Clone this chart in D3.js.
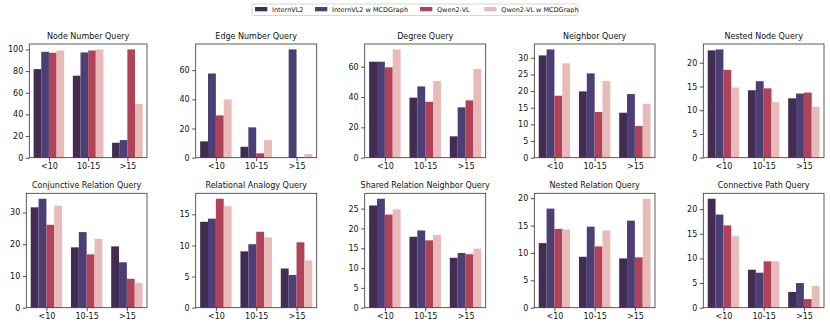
<!DOCTYPE html>
<html><head><meta charset="utf-8">
<script src="https://cdn.jsdelivr.net/npm/d3@7"></script>
<style>
html,body{margin:0;padding:0;background:#fff;}
svg{display:block;font-family:"DejaVu Sans",sans-serif;}
</style></head>
<body>
<svg id="c" width="830" height="327"></svg>
<script>
const categories = ["<10", "10-15", ">15"];
const seriesNames = ["InternVL2", "InternVL2 w MCDGraph", "Qwen2-VL", "Qwen2-VL w MCDGraph"];
const colors = ["#432c52", "#4b3f76", "#b0435a", "#e8bab8"];
const titles = ["Node Number Query", "Edge Number Query", "Degree Query", "Neighbor Query", "Nested Node Query",
  "Conjunctive Relation Query", "Relational Analogy Query", "Shared Relation Neighbor Query", "Nested Relation Query", "Connective Path Query"];

// values[panel][category] = [InternVL2, InternVL2 w MCDGraph, Qwen2-VL, Qwen2-VL w MCDGraph]
const nodeNumber   = [[81.8, 97.8, 96.9, 99.0], [75.7, 97.2, 99.0, 100.0], [13.8, 16.3, 100.0, 49.5]];
const edgeNumber   = [[11.2, 57.7, 29.0, 39.9], [7.5, 20.8, 3.0, 12.1], [0.0, 74.2, 0.5, 2.5]];
const degree       = [[63.3, 63.3, 59.6, 71.4], [39.6, 47.0, 36.9, 50.5], [14.1, 33.2, 37.8, 58.5]];
const neighbor     = [[30.7, 32.5, 18.6, 28.3], [19.9, 25.3, 13.7, 23.0], [13.5, 19.1, 9.5, 16.2]];
const nestedNode   = [[22.6, 22.8, 18.5, 14.8], [14.2, 16.1, 14.6, 11.7], [12.5, 13.5, 13.7, 10.7]];
const conjunctive  = [[31.6, 34.3, 26.1, 32.1], [19.0, 23.8, 16.8, 21.7], [19.3, 14.3, 9.1, 7.8]];
const analogy      = [[13.8, 14.3, 17.5, 16.3], [9.05, 10.2, 12.2, 11.3], [6.3, 5.25, 10.5, 7.6]];
const sharedRel    = [[25.8, 27.5, 23.5, 24.8], [17.9, 19.5, 17.0, 18.4], [12.6, 13.8, 13.5, 14.9]];
const nestedRel    = [[11.8, 18.1, 14.4, 14.3], [9.3, 14.8, 11.2, 14.1], [9.0, 15.9, 9.2, 19.9]];
const connective   = [[22.1, 18.9, 16.7, 14.5], [7.7, 7.1, 9.4, 9.4], [3.2, 5.0, 1.75, 4.4]];
const panelValues = [nodeNumber, edgeNumber, degree, neighbor, nestedNode, conjunctive, analogy, sharedRel, nestedRel, connective];

const yTicks = [[0,20,40,60,80,100],[0,20,40,60],[0,20,40,60],[0,5,10,15,20,25,30],[0,5,10,15,20],
  [0,10,20,30],[0,5,10,15],[0,5,10,15,20,25],[0,5,10,15,20],[0,5,10,15,20]];

// layout
const colRight = [147, 316.7, 485.7, 655, 824];
const colLeftTop = [29.3, 195.7, 364.7, 534.3, 703.3];
const colLeftBot = [26.3, 195.7, 364.7, 534.3, 703.3];
const rows = [{top: 44, bottom: 157.7}, {top: 193.3, bottom: 307.7}];

const svg = d3.select("#c");
const groupW = 0.78, barW = groupW / 4;

panelValues.forEach((vals, p) => {
  const r = Math.floor(p / 5), c = p % 5;
  const left = r === 0 ? colLeftTop[c] : colLeftBot[c];
  const right = colRight[c];
  const {top, bottom} = rows[r];
  const maxV = d3.max(vals.flat());
  const x = d3.scaleLinear().domain([-0.5, 2.5]).range([left, right]);
  const y = d3.scaleLinear().domain([0, maxV * 1.05]).range([bottom, top]);
  const g = svg.append("g");

  vals.forEach((row, ci) => {
    row.forEach((v, si) => {
      const x0 = ci - groupW / 2 + si * barW;
      g.append("rect")
        .attr("x", x(x0)).attr("width", x(x0 + barW) - x(x0))
        .attr("y", y(v)).attr("height", y(0) - y(v))
        .attr("fill", colors[si]);
    });
  });

  const xa = g.append("g").attr("transform", `translate(0,${bottom})`)
    .call(d3.axisBottom(x).tickValues([0,1,2]).tickFormat(i => categories[i]).tickSize(3.5).tickPadding(2.5));
  const ya = g.append("g").attr("transform", `translate(${left},0)`)
    .call(d3.axisLeft(y).tickValues(yTicks[p]).tickFormat(d3.format("d")).tickSize(3.5).tickPadding(2.5));
  [xa, ya].forEach(a => {
    a.select(".domain").remove();
    a.selectAll(".tick line").attr("stroke", "#222").attr("stroke-width", 0.8);
    a.selectAll(".tick text").attr("fill", "#111").style("font-size", "8px").style("font-family", "DejaVu Sans");
  });

  g.append("rect").attr("x", left).attr("y", top).attr("width", right - left).attr("height", bottom - top)
    .attr("fill", "none").attr("stroke", "#333").attr("stroke-width", 0.8);

  g.append("text").attr("x", (left + right) / 2).attr("y", top - 5)
    .attr("text-anchor", "middle").attr("fill", "#111").style("font-size", "8px").text(titles[p]);
});

// legend
const leg = svg.append("g");
leg.append("rect").attr("x", 252).attr("y", 4).attr("width", 326).attr("height", 11.5)
  .attr("fill", "#fff").attr("stroke", "#ccc").attr("stroke-width", 0.8).attr("rx", 1.5);
const legX = [255, 315, 420, 484.3];
seriesNames.forEach((n, i) => {
  leg.append("rect").attr("x", legX[i]).attr("y", 7).attr("width", 12.3).attr("height", 4.3).attr("fill", colors[i]);
  leg.append("text").attr("x", legX[i] + 17).attr("y", 11.6).attr("fill", "#111").style("font-size", "6.5px").text(n);
});
</script>
</body></html>
